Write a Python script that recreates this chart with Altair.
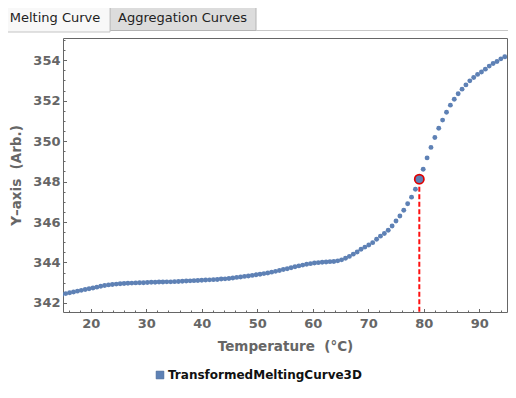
import altair as alt
import pandas as pd

# ---------------- data ----------------
temps = [14.8, 15.5, 16.2, 16.9, 17.6, 18.3, 19.0, 19.7, 20.4, 21.1,
         21.8, 22.5, 23.2, 23.9, 24.6, 25.3, 26.0, 26.7, 27.4, 28.1,
         28.8, 29.5, 30.2, 30.9, 31.6, 32.3, 33.0, 33.7, 34.4, 35.1,
         35.8, 36.5, 37.2, 37.9, 38.6, 39.3, 40.0, 40.7, 41.4, 42.1,
         42.8, 43.5, 44.2, 44.9, 45.6, 46.3, 47.0, 47.7, 48.4, 49.1,
         49.8, 50.5, 51.2, 51.9, 52.6, 53.3, 54.0, 54.7, 55.4, 56.1,
         56.8, 57.5, 58.2, 58.9, 59.6, 60.3, 61.0, 61.7, 62.4, 63.1,
         63.8, 64.5, 65.2, 65.9, 66.6, 67.3, 68.0, 68.7, 69.4, 70.1,
         70.8, 71.5, 72.2, 72.9, 73.6, 74.3, 75.0, 75.7, 76.4, 77.1,
         77.8, 78.5, 79.2, 79.9, 80.6, 81.3, 82.0, 82.7, 83.4, 84.1,
         84.8, 85.5, 86.2, 86.9, 87.6, 88.3, 89.0, 89.7, 90.4, 91.1,
         91.8, 92.5, 93.2, 93.9, 94.6]

values = [342.42, 342.46, 342.50, 342.54, 342.58, 342.62, 342.66, 342.70, 342.74, 342.78,
          342.82, 342.86, 342.89, 342.91, 342.93, 342.95, 342.96, 342.97, 342.98, 342.99,
          343.00, 343.00, 343.01, 343.02, 343.02, 343.03, 343.03, 343.04, 343.04, 343.05,
          343.06, 343.07, 343.08, 343.09, 343.10, 343.11, 343.12, 343.13, 343.14, 343.15,
          343.16, 343.18, 343.19, 343.21, 343.23, 343.26, 343.28, 343.31, 343.33, 343.36,
          343.39, 343.42, 343.45, 343.48, 343.52, 343.56, 343.60, 343.65, 343.69, 343.74,
          343.79, 343.83, 343.87, 343.91, 343.94, 343.97, 343.99, 344.01, 344.02, 344.04,
          344.05, 344.08, 344.13, 344.21, 344.30, 344.41, 344.52, 344.65, 344.76, 344.86,
          344.98, 345.15, 345.30, 345.43, 345.59, 345.80, 346.05, 346.30, 346.58, 346.90,
          347.23, 347.62, 348.12, 348.61, 349.17, 349.69, 350.18, 350.64, 351.04, 351.43,
          351.78, 352.07, 352.34, 352.57, 352.78, 352.98, 353.15, 353.30, 353.42, 353.56,
          353.71, 353.84, 353.94, 354.07, 354.17]

series_name = "TransformedMeltingCurve3D"
peak_temp = [79.2]
peak_value = [348.12]
y_floor = [341.55]

x_major = [20, 30, 40, 50, 60, 70, 80, 90]
x_minor = [16, 18, 22, 24, 26, 28, 32, 34, 36, 38, 42, 44, 46, 48, 52, 54, 56, 58,
           62, 64, 66, 68, 72, 74, 76, 78, 82, 84, 86, 88, 92, 94]
y_major = [342, 344, 346, 348, 350, 352, 354]
y_minor = [342.5, 343, 343.5, 344.5, 345, 345.5, 346.5, 347, 347.5, 348.5, 349, 349.5,
           350.5, 351, 351.5, 352.5, 353, 353.5, 354.5, 355]

tab_labels = ["Melting Curve", "Aggregation Curves"]
x_title = "Temperature \u00a0(°C)"
y_title = "Y\u2013axis \u00a0(Arb.)"

# ---------------- styling ----------------
X_DOM = [15, 95]
Y_DOM = [341.55, 355.1]
W, H = 444, 274
GRAY = "#666666"
BLUE = "#5E81B5"
FONT = "DejaVu Sans"

df = pd.DataFrame({"T": temps, "v": values, "series": [series_name] * len(temps)})
peak = pd.DataFrame({"T": peak_temp, "v": peak_value, "floor": y_floor})
one = pd.DataFrame({"k": [0]})

xs = alt.Scale(domain=X_DOM, nice=False, zero=False)
ys = alt.Scale(domain=Y_DOM, nice=False, zero=False)

lab_x = alt.Axis(orient="bottom", values=x_major, format="d", ticks=False, domain=False,
                 grid=False, labelFont=FONT, labelFontWeight="bold", labelFontSize=13,
                 labelColor=GRAY, labelPadding=5, title=x_title, titleFont=FONT,
                 titleFontWeight="bold", titleFontSize=13.5, titleColor=GRAY, titlePadding=9)
lab_y = alt.Axis(orient="left", values=y_major, format="d", ticks=False, domain=False,
                 grid=False, labelFont=FONT, labelFontWeight="bold", labelFontSize=13,
                 labelColor=GRAY, labelPadding=3, title=y_title, titleFont=FONT,
                 titleFontWeight="bold", titleFontSize=13.5, titleColor=GRAY, titlePadding=9)


def tick_axis(orient, off, vals, size):
    return alt.Axis(orient=orient, offset=off, values=vals, labels=False, domain=False,
                    grid=False, ticks=True, tickSize=size, tickColor=GRAY, tickWidth=1,
                    title=None)


points = alt.Chart(df).mark_circle(size=24, opacity=1, clip=True).encode(
    x=alt.X("T:Q", scale=xs, axis=lab_x),
    y=alt.Y("v:Q", scale=ys, axis=lab_y),
    color=alt.Color("series:N", scale=alt.Scale(range=[BLUE]),
                    legend=alt.Legend(orient="none", legendX=91, legendY=331, title=None,
                                      symbolType="square", symbolSize=60,
                                      symbolStrokeColor="#3f5f90", symbolStrokeWidth=0.6,
                                      labelFont=FONT, labelFontSize=12,
                                      labelFontWeight="bold", labelColor="#111111",
                                      labelOffset=2, labelLimit=400, padding=0)),
)

rule = alt.Chart(peak).mark_rule(color="#ff1010", strokeWidth=2, strokeDash=[5, 2.5]).encode(
    x=alt.X("T:Q", scale=xs, axis=tick_axis("top", -H, x_major, 3.5)),
    y=alt.Y("v:Q", scale=ys, axis=tick_axis("right", -W, y_major, 3.5)),
    y2="floor:Q",
)

hl = alt.Chart(peak).mark_circle(size=85, fill=BLUE, fillOpacity=1, stroke="#e00000",
                                 strokeWidth=1.7, strokeOpacity=1).encode(
    x=alt.X("T:Q", scale=xs, axis=tick_axis("top", -H, x_minor, 2)),
    y=alt.Y("v:Q", scale=ys, axis=tick_axis("right", -W, y_minor, 2)),
)

# tab strip (UI chrome around the plot)
tab_active = alt.Chart(one).mark_rect(fill="#f8f8f8", stroke="#c4c4c4", strokeWidth=1,
                                      cornerRadiusTopLeft=3, cornerRadiusTopRight=3).encode(
    x=alt.value(-61), x2=alt.value(47), y=alt.value(-36), y2=alt.value(-6))
tab_inactive = alt.Chart(one).mark_rect(fill="#dcdcdc", stroke="#b4b4b4", strokeWidth=1,
                                        cornerRadiusTopLeft=3, cornerRadiusTopRight=3).encode(
    x=alt.value(47), x2=alt.value(193), y=alt.value(-34), y2=alt.value(-7.5))
panel_line = alt.Chart(one).mark_rule(color="#c8c8c8", strokeWidth=1).encode(
    x=alt.value(193), x2=alt.value(450), y=alt.value(-7.5))
tab_text1 = alt.Chart(one).mark_text(font=FONT, fontSize=13, color="#222222",
                                     baseline="middle", align="center").encode(
    x=alt.value(-8), y=alt.value(-20.5), text=alt.value(tab_labels[0]))
tab_text2 = alt.Chart(one).mark_text(font=FONT, fontSize=13, color="#222222",
                                     baseline="middle", align="center").encode(
    x=alt.value(119.5), y=alt.value(-20.5), text=alt.value(tab_labels[1]))

chart = alt.layer(
    tab_inactive, tab_active, panel_line, tab_text1, tab_text2, points, rule, hl
).resolve_axis(
    x="independent", y="independent"
).properties(
    width=W, height=H,
    padding={"left": 55, "top": 30, "right": 1, "bottom": 76},
    autosize=alt.AutoSizeParams(type="none"),
    background="white",
).configure_view(stroke=GRAY, strokeWidth=1)

chart.save("out.html", embed_options={"renderer": "svg", "actions": False})
